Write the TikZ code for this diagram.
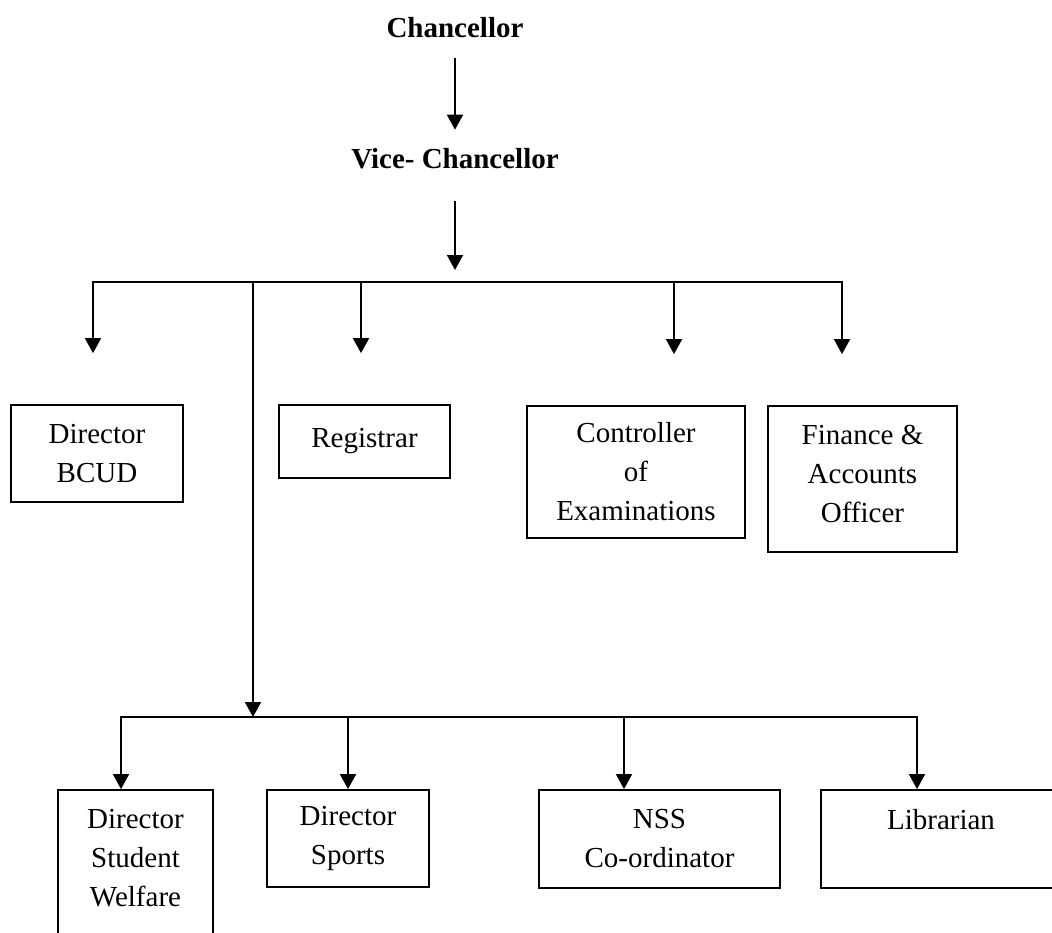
\documentclass[tikz,border=0pt]{standalone}
\usepackage{fontspec}
\setmainfont{Liberation Serif}
\usepackage{tikz}
\usetikzlibrary{arrows.meta}
\tikzset{
  head/.style={inner sep=0pt, anchor=base, font=\fontsize{29}{39}\selectfont\bfseries},
  unit/.style={draw, line width=1.8pt, inner sep=0pt, align=center, font=\fontsize{29}{39}\selectfont},
  arr/.style={line width=1.8pt, -{Triangle[width=16pt,length=15pt]}},
  bus/.style={line width=1.8pt, line cap=rect},
}

\begin{document}
\begin{tikzpicture}[x=1pt,y=-1pt]
  \useasboundingbox (0,0) rectangle (1052,932);
  \clip (0,0) rectangle (1052,932);
  % top of the chart
  \node[head] (chan) at (455,37) {Chancellor};
  \node[head] (vc) at (455,168) {Vice- Chancellor};
  \coordinate (vcend) at (455,270);
  \draw[arr, shorten <=21pt, shorten >=18pt] (chan) -- (vc);
  \draw[arr, shorten <=32pt] (vc) -- (vcend);
  % first row
  \node[unit, minimum width=172pt, minimum height=97pt] (bcud) at (97,453.5) {Director\\BCUD};
  \node[unit, minimum width=171pt, minimum height=73pt] (reg) at (364.5,441.5) {Registrar};
  \node[unit, minimum width=218pt, minimum height=132pt] (coe) at (636,472) {Controller\\of\\Examinations};
  \node[unit, minimum width=189pt, minimum height=146pt, text depth=10pt] (fao) at (862.5,479) {Finance \&\\Accounts\\Officer};
  \coordinate (ta) at (93,282);
  \coordinate (tb) at (253,282);
  \coordinate (tc) at (361,282);
  \coordinate (td) at (674,282);
  \coordinate (te) at (842,282);
  \draw[bus] (ta) -- (te);
  \draw[arr, shorten >=51pt] (ta) -- (ta |- bcud.north);
  \draw[arr, shorten >=51pt] (tc) -- (tc |- reg.north);
  \draw[arr, shorten >=51pt] (td) -- (td |- coe.north);
  \draw[arr, shorten >=51pt] (te) -- (te |- fao.north);
  % second row
  \node[unit, minimum width=155pt, minimum height=175pt] (dsw) at (135.5,877.5) {Director\\Student\\Welfare\\~};
  \node[unit, minimum width=162pt, minimum height=97pt] (dsp) at (348,838.5) {Director\\Sports};
  \node[unit, minimum width=241pt, minimum height=98pt] (nss) at (659.5,839) {NSS\\Co-ordinator};
  \node[unit, minimum width=240pt, minimum height=98pt] (lib) at (941,839) {Librarian\\~};
  \coordinate (ba) at (121,717);
  \coordinate (bb) at (253,717);
  \coordinate (bc) at (348,717);
  \coordinate (bd) at (624,717);
  \coordinate (be) at (917,717);
  \draw[arr] (tb) -- (bb);
  \draw[bus] (ba) -- (be);
  \draw[arr] (ba) -- (ba |- dsw.north);
  \draw[arr] (bc) -- (bc |- dsp.north);
  \draw[arr] (bd) -- (bd |- nss.north);
  \draw[arr] (be) -- (be |- lib.north);
\end{tikzpicture}
\end{document}
